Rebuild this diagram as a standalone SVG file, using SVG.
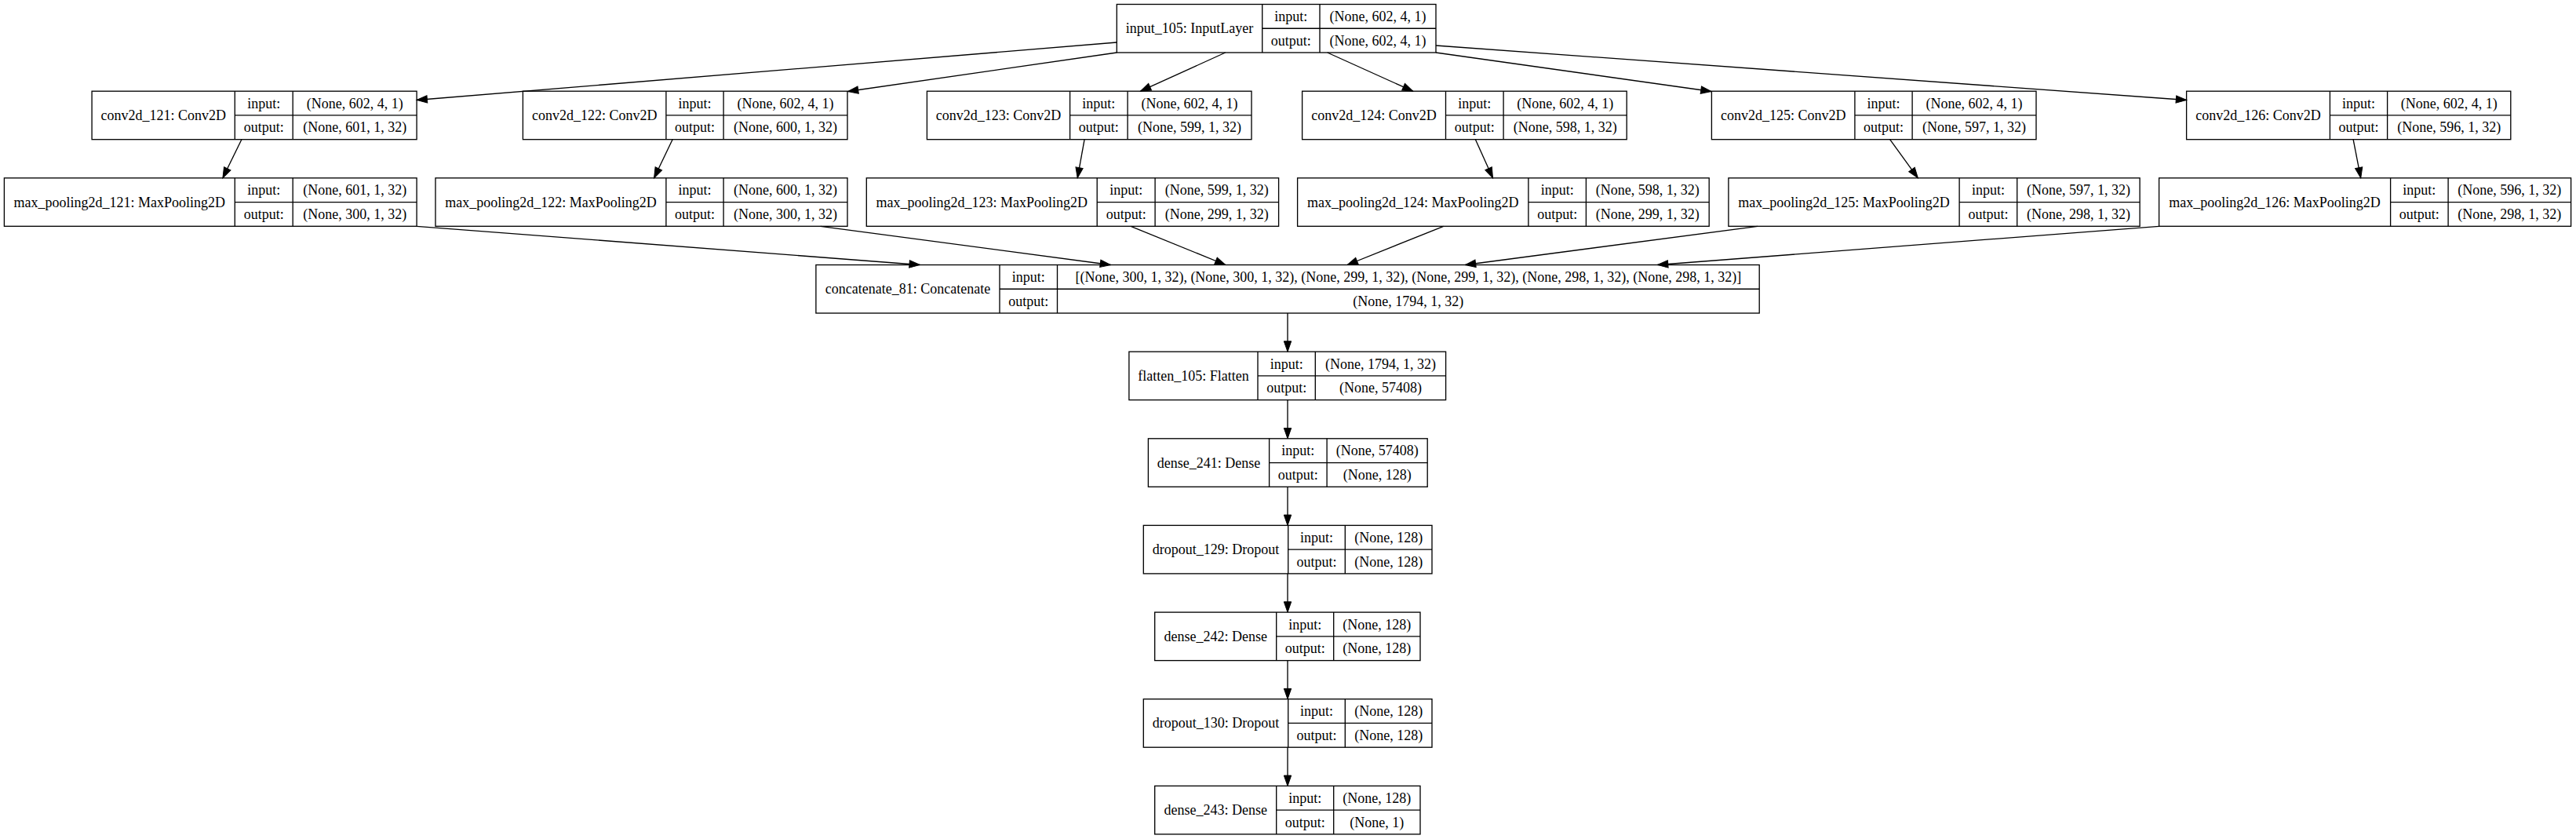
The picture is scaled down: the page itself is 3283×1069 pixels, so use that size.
<svg xmlns="http://www.w3.org/2000/svg" width="3283" height="1069" viewBox="0 0 3283 1069">
<style>
.box{fill:#fff;stroke:#000;stroke-width:1.33}
.dv{fill:none;stroke:#000;stroke-width:1.33}
text{font-family:"Liberation Serif","Times New Roman",serif;font-size:18px;fill:#000;text-anchor:middle}
.e{fill:none;stroke:#000;stroke-width:1.33;marker-end:url(#arr)}
</style>
<defs>
<marker id="arr" markerUnits="userSpaceOnUse" markerWidth="16" markerHeight="12" refX="13.3" refY="4.67" orient="auto" overflow="visible">
<path d="M0,0 L13.3,4.67 L0,9.33 z" fill="#000" stroke="#000" stroke-width="1"/>
</marker>
</defs>
<rect width="3283" height="1069" fill="#fff"/>

<g id="input_105">
<rect class="box" x="1423.3" y="5.5" width="406.7" height="61.5"/>
<path class="dv" d="M1608.7 5.5V67M1682 5.5V67M1608.7 36.25H1830"/>
<text x="1516" y="42.25">input_105: InputLayer</text>
<text x="1645.35" y="26.9">input:</text><text x="1645.35" y="57.6">output:</text>
<text x="1756" y="26.9">(None, 602, 4, 1)</text><text x="1756" y="57.6">(None, 602, 4, 1)</text>
</g>

<g id="conv2d_121">
<rect class="box" x="117.1" y="116.2" width="414" height="61.5"/>
<path class="dv" d="M299.3 116.2V177.7M373.2 116.2V177.7M299.3 146.95H531.1"/>
<text x="208.2" y="152.95">conv2d_121: Conv2D</text>
<text x="336.25" y="137.6">input:</text><text x="336.25" y="168.3">output:</text>
<text x="452.15" y="137.6">(None, 602, 4, 1)</text><text x="452.15" y="168.3">(None, 601, 1, 32)</text>
</g>
<g id="conv2d_122">
<rect class="box" x="666.4" y="116.2" width="413.6" height="61.5"/>
<path class="dv" d="M848.9 116.2V177.7M922.1 116.2V177.7M848.9 146.95H1080"/>
<text x="757.65" y="152.95">conv2d_122: Conv2D</text>
<text x="885.5" y="137.6">input:</text><text x="885.5" y="168.3">output:</text>
<text x="1001.05" y="137.6">(None, 602, 4, 1)</text><text x="1001.05" y="168.3">(None, 600, 1, 32)</text>
</g>
<g id="conv2d_123">
<rect class="box" x="1181.4" y="116.2" width="413.6" height="61.5"/>
<path class="dv" d="M1363.6 116.2V177.7M1437.1 116.2V177.7M1363.6 146.95H1595"/>
<text x="1272.5" y="152.95">conv2d_123: Conv2D</text>
<text x="1400.35" y="137.6">input:</text><text x="1400.35" y="168.3">output:</text>
<text x="1516.05" y="137.6">(None, 602, 4, 1)</text><text x="1516.05" y="168.3">(None, 599, 1, 32)</text>
</g>
<g id="conv2d_124">
<rect class="box" x="1659.6" y="116.2" width="413.6" height="61.5"/>
<path class="dv" d="M1842.5 116.2V177.7M1916.1 116.2V177.7M1842.5 146.95H2073.2"/>
<text x="1751.05" y="152.95">conv2d_124: Conv2D</text>
<text x="1879.3" y="137.6">input:</text><text x="1879.3" y="168.3">output:</text>
<text x="1994.65" y="137.6">(None, 602, 4, 1)</text><text x="1994.65" y="168.3">(None, 598, 1, 32)</text>
</g>
<g id="conv2d_125">
<rect class="box" x="2181.4" y="116.2" width="413.6" height="61.5"/>
<path class="dv" d="M2363.9 116.2V177.7M2437.1 116.2V177.7M2363.9 146.95H2595"/>
<text x="2272.65" y="152.95">conv2d_125: Conv2D</text>
<text x="2400.5" y="137.6">input:</text><text x="2400.5" y="168.3">output:</text>
<text x="2516.05" y="137.6">(None, 602, 4, 1)</text><text x="2516.05" y="168.3">(None, 597, 1, 32)</text>
</g>
<g id="conv2d_126">
<rect class="box" x="2786.6" y="116.2" width="413.2" height="61.5"/>
<path class="dv" d="M2969.4 116.2V177.7M3042.6 116.2V177.7M2969.4 146.95H3199.8"/>
<text x="2878" y="152.95">conv2d_126: Conv2D</text>
<text x="3006" y="137.6">input:</text><text x="3006" y="168.3">output:</text>
<text x="3121.2" y="137.6">(None, 602, 4, 1)</text><text x="3121.2" y="168.3">(None, 596, 1, 32)</text>
</g>

<g id="max_pooling2d_121">
<rect class="box" x="5.4" y="226.8" width="525.7" height="61.5"/>
<path class="dv" d="M299.3 226.8V288.3M373.2 226.8V288.3M299.3 257.55H531.1"/>
<text x="152.35" y="263.55">max_pooling2d_121: MaxPooling2D</text>
<text x="336.25" y="248.2">input:</text><text x="336.25" y="278.9">output:</text>
<text x="452.15" y="248.2">(None, 601, 1, 32)</text><text x="452.15" y="278.9">(None, 300, 1, 32)</text>
</g>
<g id="max_pooling2d_122">
<rect class="box" x="555" y="226.8" width="525" height="61.5"/>
<path class="dv" d="M848.9 226.8V288.3M922.1 226.8V288.3M848.9 257.55H1080"/>
<text x="701.95" y="263.55">max_pooling2d_122: MaxPooling2D</text>
<text x="885.5" y="248.2">input:</text><text x="885.5" y="278.9">output:</text>
<text x="1001.05" y="248.2">(None, 600, 1, 32)</text><text x="1001.05" y="278.9">(None, 300, 1, 32)</text>
</g>
<g id="max_pooling2d_123">
<rect class="box" x="1104.3" y="226.8" width="525.3" height="61.5"/>
<path class="dv" d="M1398.2 226.8V288.3M1472.1 226.8V288.3M1398.2 257.55H1629.6"/>
<text x="1251.25" y="263.55">max_pooling2d_123: MaxPooling2D</text>
<text x="1435.15" y="248.2">input:</text><text x="1435.15" y="278.9">output:</text>
<text x="1550.85" y="248.2">(None, 599, 1, 32)</text><text x="1550.85" y="278.9">(None, 299, 1, 32)</text>
</g>
<g id="max_pooling2d_124">
<rect class="box" x="1653.6" y="226.8" width="524.6" height="61.5"/>
<path class="dv" d="M1947.9 226.8V288.3M2021.4 226.8V288.3M1947.9 257.55H2178.2"/>
<text x="1800.75" y="263.55">max_pooling2d_124: MaxPooling2D</text>
<text x="1984.65" y="248.2">input:</text><text x="1984.65" y="278.9">output:</text>
<text x="2099.8" y="248.2">(None, 598, 1, 32)</text><text x="2099.8" y="278.9">(None, 299, 1, 32)</text>
</g>
<g id="max_pooling2d_125">
<rect class="box" x="2202.9" y="226.8" width="524.2" height="61.5"/>
<path class="dv" d="M2497.1 226.8V288.3M2570.7 226.8V288.3M2497.1 257.55H2727.1"/>
<text x="2350" y="263.55">max_pooling2d_125: MaxPooling2D</text>
<text x="2533.9" y="248.2">input:</text><text x="2533.9" y="278.9">output:</text>
<text x="2648.9" y="248.2">(None, 597, 1, 32)</text><text x="2648.9" y="278.9">(None, 298, 1, 32)</text>
</g>
<g id="max_pooling2d_126">
<rect class="box" x="2751.6" y="226.8" width="525" height="61.5"/>
<path class="dv" d="M3046.6 226.8V288.3M3120.1 226.8V288.3M3046.6 257.55H3276.6"/>
<text x="2899.1" y="263.55">max_pooling2d_126: MaxPooling2D</text>
<text x="3083.35" y="248.2">input:</text><text x="3083.35" y="278.9">output:</text>
<text x="3198.35" y="248.2">(None, 596, 1, 32)</text><text x="3198.35" y="278.9">(None, 298, 1, 32)</text>
</g>

<g id="concatenate_81">
<rect class="box" x="1039.9" y="337.5" width="1202.3" height="61.5"/>
<path class="dv" d="M1274 337.5V399M1347.5 337.5V399M1274 368.25H2242.2"/>
<text x="1156.95" y="374.25">concatenate_81: Concatenate</text>
<text x="1310.75" y="358.9">input:</text><text x="1310.75" y="389.6">output:</text>
<text x="1794.85" y="358.9">[(None, 300, 1, 32), (None, 300, 1, 32), (None, 299, 1, 32), (None, 299, 1, 32), (None, 298, 1, 32), (None, 298, 1, 32)]</text>
<text x="1794.85" y="389.6">(None, 1794, 1, 32)</text>
</g>

<g id="flatten_105">
<rect class="box" x="1438.9" y="448.1" width="403.7" height="61.5"/>
<path class="dv" d="M1603 448.1V509.6M1676.3 448.1V509.6M1603 478.85H1842.6"/>
<text x="1520.95" y="484.85">flatten_105: Flatten</text>
<text x="1639.65" y="469.5">input:</text><text x="1639.65" y="500.2">output:</text>
<text x="1759.45" y="469.5">(None, 1794, 1, 32)</text><text x="1759.45" y="500.2">(None, 57408)</text>
</g>

<g id="dense_241">
<rect class="box" x="1463.4" y="558.8" width="355.8" height="61.5"/>
<path class="dv" d="M1617.6 558.8V620.3M1691.1 558.8V620.3M1617.6 589.55H1819.2"/>
<text x="1540.5" y="595.55">dense_241: Dense</text>
<text x="1654.35" y="580.2">input:</text><text x="1654.35" y="610.9">output:</text>
<text x="1755.15" y="580.2">(None, 57408)</text><text x="1755.15" y="610.9">(None, 128)</text>
</g>

<g id="dropout_129">
<rect class="box" x="1457.3" y="669.4" width="367.7" height="61.5"/>
<path class="dv" d="M1641.7 669.4V730.9M1714.3 669.4V730.9M1641.7 700.15H1825"/>
<text x="1549.5" y="706.15">dropout_129: Dropout</text>
<text x="1678" y="690.8">input:</text><text x="1678" y="721.5">output:</text>
<text x="1769.65" y="690.8">(None, 128)</text><text x="1769.65" y="721.5">(None, 128)</text>
</g>

<g id="dense_242">
<rect class="box" x="1471.7" y="780.1" width="338.3" height="61.5"/>
<path class="dv" d="M1626.7 780.1V841.6M1699.7 780.1V841.6M1626.7 810.85H1810"/>
<text x="1549.2" y="816.85">dense_242: Dense</text>
<text x="1663.2" y="801.5">input:</text><text x="1663.2" y="832.2">output:</text>
<text x="1754.85" y="801.5">(None, 128)</text><text x="1754.85" y="832.2">(None, 128)</text>
</g>

<g id="dropout_130">
<rect class="box" x="1457.3" y="890.7" width="367.7" height="61.5"/>
<path class="dv" d="M1641.7 890.7V952.2M1714.3 890.7V952.2M1641.7 921.45H1825"/>
<text x="1549.5" y="927.45">dropout_130: Dropout</text>
<text x="1678" y="912.1">input:</text><text x="1678" y="942.8">output:</text>
<text x="1769.65" y="912.1">(None, 128)</text><text x="1769.65" y="942.8">(None, 128)</text>
</g>

<g id="dense_243">
<rect class="box" x="1471.7" y="1001.4" width="338.3" height="61.5"/>
<path class="dv" d="M1626.7 1001.4V1062.9M1699.7 1001.4V1062.9M1626.7 1032.15H1810"/>
<text x="1549.2" y="1038.15">dense_243: Dense</text>
<text x="1663.2" y="1022.8">input:</text><text x="1663.2" y="1053.5">output:</text>
<text x="1754.85" y="1022.8">(None, 128)</text><text x="1754.85" y="1053.5">(None, 1)</text>
</g>

<g id="connectors">
<path class="e" d="M1423.3 54L531.1 127.5"/>
<path class="e" d="M1423.3 67L1080.5 116.5"/>
<path class="e" d="M1561.7 67L1453.5 116.2"/>
<path class="e" d="M1691.7 67L1800.7 116.2"/>
<path class="e" d="M1830 67L2181 116.5"/>
<path class="e" d="M1830 58L2786.6 127.5"/>
<path class="e" d="M307.9 177.7L283.9 226.8"/>
<path class="e" d="M857.1 177.7L833.6 226.8"/>
<path class="e" d="M1382.1 177.7L1373.2 226.8"/>
<path class="e" d="M1880.4 177.7L1902.5 226.8"/>
<path class="e" d="M2408.6 177.7L2444.3 226.8"/>
<path class="e" d="M2999.1 177.7L3008.7 226.8"/>
<path class="e" d="M531.1 288.3L1172.3 337.5"/>
<path class="e" d="M1045.8 288.3L1415.5 337.5"/>
<path class="e" d="M1441.2 288.3L1561.8 337.5"/>
<path class="e" d="M1839.7 288.3L1717.1 337.5"/>
<path class="e" d="M2240 288.3L1867.4 337.5"/>
<path class="e" d="M2751.6 288.3L2112.5 337.5"/>
<path class="e" d="M1641 399V448.1"/>
<path class="e" d="M1641 509.6V558.8"/>
<path class="e" d="M1641 620.3V669.4"/>
<path class="e" d="M1641 730.9V780.1"/>
<path class="e" d="M1641 841.6V890.7"/>
<path class="e" d="M1641 952.2V1001.4"/>
</g>
</svg>
